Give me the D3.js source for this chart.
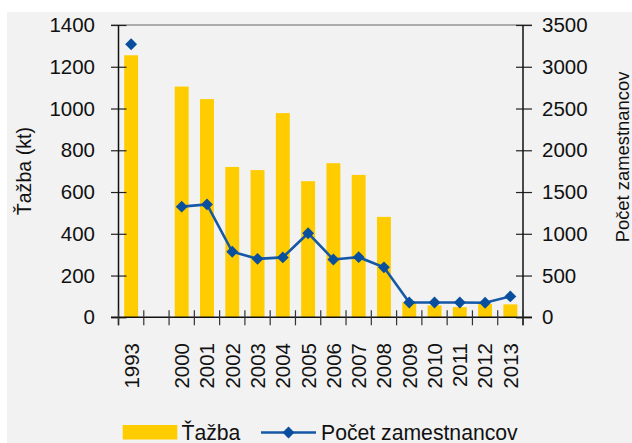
<!DOCTYPE html>
<meta charset="utf-8">
<style>
body { margin: 0; background: #fff; }
text { font-family: "Liberation Sans", Arial, sans-serif; fill: #111; }
.axis path { display: none; }
.axis line { stroke: #222; stroke-width: 1.2px; }
.axis text { font-size: 20.5px; }
</style>
<body>
<script src="https://d3js.org/d3.v7.min.js"></script>
<script>

// data
var years = ["1993", " ", "2000", "2001", "2002", "2003", "2004", "2005", "2006",
             "2007", "2008", "2009", "2010", "2011", "2012", "2013"];
var tazba = [1255, null, 1105, 1045, 720, 705, 978, 652, 738, 682, 481, 72, 57, 49, 64, 62];
var zamestnanci = [3270, null, 1325, 1352, 785, 700, 717, 1007, 692, 720, 598, 178, 178, 178, 175, 250];
var leftTicks = [0, 200, 400, 600, 800, 1000, 1200, 1400];
var rightTicks = [0, 500, 1000, 1500, 2000, 2500, 3000, 3500];

var W = 632, H = 443;
var plotL = 118.5, plotR = 523, plotT = 25, plotB = 317.3;

var svg = d3.select("body").append("svg")
    .attr("width", W)
    .attr("height", H);

// grey panel
svg.append("rect")
    .attr("x", 7).attr("y", 12)
    .attr("width", W - 7).attr("height", H - 12)
    .attr("fill", "#f2f2f2");

// scales
var x = d3.scaleBand()
    .domain(years)
    .range([plotL, plotR])
    .paddingInner(0.45)
    .paddingOuter(0.225);

var yL = d3.scaleLinear().domain([0, 1400]).range([plotB, plotT]);
var yR = d3.scaleLinear().domain([0, 3500]).range([plotB, plotT]);

// top border
svg.append("line")
    .attr("x1", plotL - 7.5).attr("x2", plotR + 9)
    .attr("y1", plotT).attr("y2", plotT)
    .attr("stroke", "#666").attr("stroke-width", 1.2);

// bars
svg.selectAll(".bar")
    .data(years.map(function(d, i) { return {year: d, v: tazba[i]}; })
               .filter(function(d) { return d.v != null; }))
  .enter().append("rect")
    .attr("class", "bar")
    .attr("x", function(d) { return x(d.year); })
    .attr("width", x.bandwidth())
    .attr("y", function(d) { return yL(d.v); })
    .attr("height", function(d) { return plotB - yL(d.v); })
    .attr("fill", "#ffcc00");

// left axis
var gL = svg.append("g")
    .attr("class", "axis")
    .attr("transform", "translate(" + plotL + ",0)")
    .call(d3.axisLeft(yL).tickValues(leftTicks).tickFormat(d3.format("d"))
            .tickSize(8).tickPadding(15.5));
gL.selectAll("line").attr("x1", -7.5).attr("x2", 8);
svg.append("line")
    .attr("x1", plotL).attr("x2", plotL)
    .attr("y1", plotT).attr("y2", plotB + 8)
    .attr("stroke", "#111").attr("stroke-width", 1.5);

// right axis
var gR = svg.append("g")
    .attr("class", "axis")
    .attr("transform", "translate(" + plotR + ",0)")
    .call(d3.axisRight(yR).tickValues(rightTicks).tickFormat(d3.format("d"))
            .tickSize(8).tickPadding(11));
gR.selectAll("line").attr("x1", -7).attr("x2", 9);
svg.append("line")
    .attr("x1", plotR).attr("x2", plotR)
    .attr("y1", plotT).attr("y2", plotB + 8)
    .attr("stroke", "#111").attr("stroke-width", 1.5);

// bottom axis with ticks on category boundaries
var step = x.step();
var bounds = d3.range(years.length + 1).map(function(i) { return plotL + i * step; });
svg.append("line")
    .attr("x1", plotL - 7.5).attr("x2", plotR + 9)
    .attr("y1", plotB).attr("y2", plotB)
    .attr("stroke", "#111").attr("stroke-width", 1.5);
svg.selectAll(".xtick")
    .data(bounds)
  .enter().append("line")
    .attr("class", "xtick")
    .attr("x1", function(d) { return d; }).attr("x2", function(d) { return d; })
    .attr("y1", plotB - 7).attr("y2", plotB + 8)
    .attr("stroke", "#333").attr("stroke-width", 1.2);

svg.selectAll(".xlabel")
    .data(years)
  .enter().append("text")
    .attr("class", "xlabel")
    .attr("transform", function(d) {
      return "translate(" + (x(d) + x.bandwidth() / 2) + ",343) rotate(-90)";
    })
    .attr("dy", "0.36em")
    .attr("text-anchor", "end")
    .style("font-size", "20.5px")
    .text(function(d) { return d; });

// line series
var pts = years.map(function(d, i) { return {year: d, v: zamestnanci[i]}; })
               .filter(function(d) { return d.v != null; });
var cx = function(d) { return x(d.year) + x.bandwidth() / 2; };

var valueline = d3.line()
    .x(cx)
    .y(function(d) { return yR(d.v); });

svg.append("path")
    .datum(pts.slice(1))
    .attr("fill", "none")
    .attr("stroke", "#1558a6")
    .attr("stroke-width", 2.6)
    .attr("d", valueline);

var diamond = d3.symbol().type(d3.symbolDiamond2).size(90);
svg.selectAll(".pt")
    .data(pts)
  .enter().append("path")
    .attr("class", "pt")
    .attr("transform", function(d) { return "translate(" + cx(d) + "," + yR(d.v) + ")"; })
    .attr("d", diamond)
    .attr("fill", "#0a4f9e");

// axis titles
svg.append("text")
    .attr("transform", "translate(31," + ((plotT + plotB) / 2) + ") rotate(-90)")
    .attr("text-anchor", "middle")
    .style("font-size", "19.6px")
    .text("Ťažba (kt)");

svg.append("text")
    .attr("transform", "translate(629,157) rotate(-90)")
    .attr("text-anchor", "middle")
    .style("font-size", "18.4px")
    .text("Počet zamestnancov");

// legend
var lg = svg.append("g");
lg.append("rect")
    .attr("x", 122.7).attr("y", 425)
    .attr("width", 54.6).attr("height", 14.5)
    .attr("fill", "#ffcc00");
lg.append("text")
    .attr("x", 181.5).attr("y", 440)
    .style("font-size", "21.2px")
    .text("Ťažba");
lg.append("line")
    .attr("x1", 261).attr("x2", 316)
    .attr("y1", 432.5).attr("y2", 432.5)
    .attr("stroke", "#1558a6").attr("stroke-width", 2.6);
lg.append("path")
    .attr("transform", "translate(288.5,432.5)")
    .attr("d", diamond)
    .attr("fill", "#0a4f9e");
lg.append("text")
    .attr("x", 321).attr("y", 440)
    .style("font-size", "21.2px")
    .text("Počet zamestnancov");

</script>
</body>
